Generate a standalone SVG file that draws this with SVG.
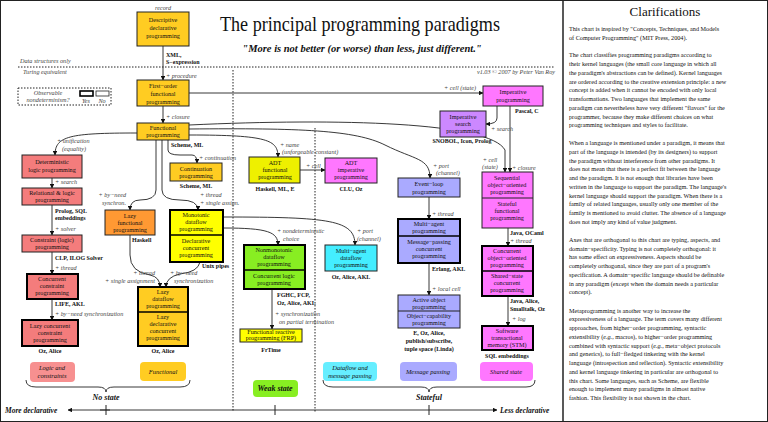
<svg xmlns="http://www.w3.org/2000/svg" width="768" height="422" viewBox="0 0 768 422">
<defs>
<marker id="ah" viewBox="0 0 10 10" refX="9" refY="5" markerWidth="5" markerHeight="5" orient="auto"><path d="M0,0 L10,5 L0,10 z" fill="#111"/></marker>
<style>
text{font-family:"Liberation Serif",serif;fill:#111}
.n{font-size:6.2px;text-anchor:middle}
.b{font-size:6px;font-weight:bold}
.bc{font-size:6px;font-weight:bold;text-anchor:middle}
.i{font-size:6.2px;font-style:italic;fill:#444}
.c{font-size:6.2px}
.r{stroke:#222;stroke-width:1}
.t{stroke:#000;stroke-width:2}
.e{fill:none;stroke:#222;stroke-width:0.9}
.dot{stroke:#222;stroke-width:1;stroke-dasharray:1.5,1.5;fill:none}
.lg{font-size:6.5px;font-style:italic;text-anchor:middle}
</style>
</defs>
<rect x="0.5" y="0.5" width="767" height="421" fill="#fff" stroke="#222"/>
<line x1="563" y1="0" x2="563" y2="422" stroke="#222" stroke-width="1.5"/>
<text x="220" y="31" font-size="21" textLength="280" lengthAdjust="spacingAndGlyphs">The principal programming paradigms</text>
<text x="362" y="52" font-size="10.5" font-style="italic" font-weight="bold" text-anchor="middle">"More is not better (or worse) than less, just different."</text>
<line x1="18" y1="67" x2="555" y2="67" class="dot"/>
<text x="20" y="63" class="i">Data structures only</text>
<text x="23" y="74" class="i">Turing equivalent</text>
<text x="555" y="74" class="i" text-anchor="end" font-size="5.2">v1.03 © 2007 by Peter Van Roy</text>
<line x1="233" y1="70" x2="233" y2="412" class="dot"/>
<line x1="315" y1="128" x2="315" y2="412" class="dot"/>
<g id="legend">
<rect x="18" y="88" width="93" height="17" class="dot"/>
<text x="48" y="95" class="i" text-anchor="middle">Observable</text>
<text x="48" y="102" class="i" text-anchor="middle">nondeterminism?</text>
<rect x="80" y="91" width="13" height="5" fill="#fff" stroke="#000" stroke-width="1.6"/>
<rect x="96" y="91" width="13" height="5" fill="#fff" stroke="#222" stroke-width="0.8"/>
<text x="86" y="103" class="i" text-anchor="middle">Yes</text>
<text x="102" y="103" class="i" text-anchor="middle">No</text>
</g>
<g id="connectors">
<path class="e" marker-end="url(#ah)" d="M163,46 V80"/>
<path class="e" marker-end="url(#ah)" d="M163,106 V123"/>
<path class="e" marker-end="url(#ah)" d="M189,93 H483"/>
<path class="e" marker-end="url(#ah)" d="M137,133 C70,133 55,136 55,155"/>
<path class="e" marker-end="url(#ah)" d="M168,140 V150 Q168,155 180,155 H192 Q197,155 197,163"/>
<path class="e" marker-end="url(#ah)" d="M156,140 V190 Q156,200 140,200 Q130,200 130,210"/>
<path class="e" marker-end="url(#ah)" d="M162,140 V190 Q162,200 180,200 Q198,200 198,210"/>
<path class="e" marker-end="url(#ah)" d="M189,135 C268,135 278,140 278,157"/>
<path class="e" marker-end="url(#ah)" d="M189,129 C300,128 355,130 385,145 C415,160 430,158 430,178"/>
<path class="e" marker-end="url(#ah)" d="M189,125 C340,118 490,122 505,150 V172"/>
<path class="e" marker-end="url(#ah)" d="M497,106 V118 Q497,124 486,124"/>
<path class="e" marker-end="url(#ah)" d="M510,106 V172"/>
<path class="e" marker-end="url(#ah)" d="M508,228 V246"/>
<path class="e" marker-end="url(#ah)" d="M508,296 V326"/>
<path class="e" marker-end="url(#ah)" d="M300,170 H325"/>
<path class="e" marker-end="url(#ah)" d="M223,217 C330,217 355,220 355,245"/>
<path class="e" marker-end="url(#ah)" d="M223,228 C268,228 278,232 278,245"/>
<path class="e" marker-end="url(#ah)" d="M429,197 V219"/>
<path class="e" marker-end="url(#ah)" d="M429,263 V295"/>
<path class="e" marker-end="url(#ah)" d="M52,178 V188"/>
<path class="e" marker-end="url(#ah)" d="M52,205 V235"/>
<path class="e" marker-end="url(#ah)" d="M52,252 V274"/>
<path class="e" marker-end="url(#ah)" d="M52,299 V320"/>
<path class="e" marker-end="url(#ah)" d="M130,235 V255 Q130,272 150,275 Q160,277 160,287"/>
<path class="e" marker-end="url(#ah)" d="M200,262 Q198,272 180,274 Q166,277 166,287"/>
<path class="e" marker-end="url(#ah)" d="M272,289 V329"/>
</g>
<g id="descriptive"><text x="163" y="10" class="i" text-anchor="middle">record</text>
<rect x="137" y="12" width="52" height="34" fill="#ffcc22" class="r"/>
<text x="163" y="22" class="n">Descriptive</text><text x="163" y="30" class="n">declarative</text><text x="163" y="38" class="n">programming</text>
<text x="166" y="57" class="b">XML,</text><text x="166" y="64" class="b">S−expression</text><text x="166" y="78" class="i">+ procedure</text></g>
<g id="firstorder"><rect x="137" y="80" width="52" height="26" fill="#ffcc22" class="r"/>
<text x="163" y="88" class="n">First−order</text><text x="163" y="96" class="n">functional</text><text x="163" y="104" class="n">programming</text>
<text x="166" y="119" class="i">+ closure</text></g>
<g id="functional"><rect x="137" y="123" width="52" height="17" fill="#ffcc22" class="r"/>
<text x="163" y="130" class="n">Functional</text><text x="163" y="137" class="n">programming</text>
<text x="171" y="147" class="b">Scheme, ML</text></g>
<g id="imperative"><rect x="483" y="86" width="60" height="20" fill="#ff77ff" class="r"/>
<text x="513" y="94" class="n">Imperative</text><text x="513" y="102" class="n">programming</text>
<text x="460" y="90" class="i" text-anchor="middle">+ cell (state)</text>
<text x="515" y="113" class="b">Pascal, C</text></g>
<g id="impsearch"><rect x="440" y="111" width="46" height="26" fill="#cc88ff" class="r"/>
<text x="463" y="119" class="n">Imperative</text><text x="463" y="126" class="n">search</text><text x="463" y="133" class="n">programming</text>
<text x="491" y="131" class="i">+ search</text>
<text x="462" y="143" class="bc">SNOBOL, Icon, Prolog</text></g>
<g id="sequential"><rect x="482" y="172" width="51" height="56" fill="#ff77ff" class="r"/><line x1="482" y1="198" x2="533" y2="198" stroke="#222"/>
<text x="507" y="180" class="n">Sequential</text><text x="507" y="187" class="n">object−oriented</text><text x="507" y="194" class="n">programming</text>
<text x="507" y="206" class="n">Stateful</text><text x="507" y="213" class="n">functional</text><text x="507" y="220" class="n">programming</text>
<text x="490" y="162" class="i" text-anchor="middle">+ cell</text><text x="490" y="169" class="i" text-anchor="middle">(state)</text>
<text x="512" y="170" class="i">+ closure</text>
<text x="510" y="235" class="b">Java, OCaml</text><text x="510" y="243" class="i">+ thread</text></g>
<g id="concoo"><rect x="482" y="246" width="51" height="50" fill="#ff77ff" class="t"/><line x1="482" y1="271" x2="533" y2="271" stroke="#000" stroke-width="1.5"/>
<text x="507" y="253" class="n">Concurrent</text><text x="507" y="260" class="n">object−oriented</text><text x="507" y="267" class="n">programming</text>
<text x="507" y="278" class="n">Shared−state</text><text x="507" y="285" class="n">concurrent</text><text x="507" y="292" class="n">programming</text>
<text x="510" y="303" class="b">Java, Alice,</text><text x="510" y="311" class="b">Smalltalk, Oz</text><text x="512" y="321" class="i">+ log</text></g>
<g id="stm"><rect x="482" y="326" width="51" height="24" fill="#ff77ff" class="t"/>
<text x="507" y="333" class="n">Software</text><text x="507" y="340" class="n">transactional</text><text x="507" y="347" class="n">memory (STM)</text>
<text x="507" y="358" class="bc">SQL embeddings</text></g>
<g id="eventloop"><rect x="398" y="178" width="62" height="19" fill="#aaaaff" class="r"/>
<text x="429" y="186" class="n">Event−loop</text><text x="429" y="194" class="n">programming</text>
<text x="433" y="168" class="i">+ port</text><text x="436" y="175" class="i">(channel)</text>
<text x="432" y="216" class="i">+ thread</text></g>
<g id="multiagent"><rect x="398" y="219" width="62" height="44" fill="#aaaaff" class="t"/><line x1="398" y1="236" x2="460" y2="236" stroke="#000" stroke-width="1.5"/>
<text x="429" y="226" class="n">Multi−agent</text><text x="429" y="233" class="n">programming</text>
<text x="429" y="244" class="n">Message−passing</text><text x="429" y="251" class="n">concurrent</text><text x="429" y="258" class="n">programming</text>
<text x="432" y="271" class="b">Erlang, AKL</text><text x="432" y="291" class="i">+ local cell</text></g>
<g id="activeobj"><rect x="398" y="295" width="62" height="33" fill="#aaaaff" class="r"/><line x1="398" y1="311" x2="460" y2="311" stroke="#222"/>
<text x="429" y="302" class="n">Active object</text><text x="429" y="309" class="n">programming</text>
<text x="429" y="318" class="n">Object−capability</text><text x="429" y="325" class="n">programming</text>
<text x="429" y="335" class="bc">E, Oz, Alice,</text><text x="429" y="343" class="bc">publish/subscribe,</text><text x="429" y="351" class="bc">tuple space (Linda)</text></g>
<g id="adtfunc"><rect x="249" y="157" width="51" height="26" fill="#eef000" class="r"/>
<text x="275" y="165" class="n">ADT</text><text x="275" y="172" class="n">functional</text><text x="275" y="179" class="n">programming</text>
<text x="280" y="147" class="i">+ name</text><text x="282" y="154" class="i">(unforgeable constant)</text>
<text x="275" y="191" class="bc">Haskell, ML, E</text></g>
<g id="adtimp"><rect x="325" y="158" width="52" height="25" fill="#ff77ff" class="r"/>
<text x="351" y="165" class="n">ADT</text><text x="351" y="172" class="n">imperative</text><text x="351" y="179" class="n">programming</text>
<text x="306" y="168" class="i">+ cell</text>
<text x="351" y="191" class="bc">CLU, Oz</text></g>
<g id="continuation"><rect x="170" y="163" width="52" height="18" fill="#ffcc22" class="r"/>
<text x="196" y="171" class="n">Continuation</text><text x="196" y="178" class="n">programming</text>
<text x="199" y="160" class="i">+ continuation</text>
<text x="196" y="188" class="bc">Scheme, ML</text></g>
<g id="detlogic"><rect x="22" y="155" width="60" height="23" fill="#f47c7c" class="r"/>
<text x="52" y="164" class="n">Deterministic</text><text x="52" y="172" class="n">logic programming</text>
<text x="57" y="143" class="i">+ unification</text><text x="62" y="151" class="i">(equality)</text>
<text x="55" y="184" class="i">+ search</text></g>
<g id="rellogic"><rect x="22" y="188" width="60" height="17" fill="#f47c7c" class="r"/>
<text x="52" y="195" class="n">Relational &amp; logic</text><text x="52" y="202" class="n">programming</text>
<text x="55" y="213" class="b">Prolog, SQL</text><text x="55" y="220" class="b">embeddings</text><text x="55" y="231" class="i">+ solver</text></g>
<g id="constraint"><rect x="22" y="235" width="60" height="17" fill="#f47c7c" class="r"/>
<text x="52" y="242" class="n">Constraint (logic)</text><text x="52" y="249" class="n">programming</text>
<text x="55" y="260" class="b">CLP, ILOG Solver</text><text x="55" y="270" class="i">+ thread</text></g>
<g id="concconstraint"><rect x="27" y="274" width="51" height="25" fill="#f47c7c" class="t"/>
<text x="52" y="281" class="n">Concurrent</text><text x="52" y="288" class="n">constraint</text><text x="52" y="295" class="n">programming</text>
<text x="55" y="306" class="b">LIFE, AKL</text><text x="55" y="316" class="i">+ by−need synchronization</text></g>
<g id="lazyconstraint"><rect x="22" y="320" width="56" height="26" fill="#f47c7c" class="t"/>
<text x="50" y="328" class="n">Lazy concurrent</text><text x="50" y="335" class="n">constraint</text><text x="50" y="342" class="n">programming</text>
<text x="50" y="353" class="bc">Oz, Alice</text></g>
<g id="lazyfunc"><rect x="105" y="210" width="50" height="25" fill="#ff9933" class="r"/>
<text x="130" y="218" class="n">Lazy</text><text x="130" y="225" class="n">functional</text><text x="130" y="232" class="n">programming</text>
<text x="126" y="197" class="i" text-anchor="end">+ by−need</text><text x="126" y="205" class="i" text-anchor="end">synchron.</text>
<text x="132" y="242" class="b">Haskell</text></g>
<g id="monotonic"><rect x="170" y="210" width="53" height="52" fill="#ffff00" class="t"/><line x1="170" y1="235" x2="223" y2="235" stroke="#000" stroke-width="1.5"/>
<text x="196" y="217" class="n">Monotonic</text><text x="196" y="224" class="n">dataflow</text><text x="196" y="231" class="n">programming</text>
<text x="196" y="243" class="n">Declarative</text><text x="196" y="250" class="n">concurrent</text><text x="196" y="257" class="n">programming</text>
<text x="200" y="197" class="i">+ thread</text><text x="200" y="205" class="i">+ single assign.</text>
<text x="202" y="268" class="b">Unix pipes</text>
<text x="155" y="275" class="i" text-anchor="end">+ thread</text><text x="155" y="283" class="i" text-anchor="end">+ single assignment</text>
<text x="170" y="275" class="i">+ by−need</text><text x="174" y="283" class="i">synchronization</text></g>
<g id="lazydataflow"><rect x="138" y="287" width="50" height="59" fill="#ffcc22" class="t"/><line x1="138" y1="312" x2="188" y2="312" stroke="#000" stroke-width="1.5"/>
<text x="163" y="294" class="n">Lazy</text><text x="163" y="301" class="n">dataflow</text><text x="163" y="308" class="n">programming</text>
<text x="163" y="319" class="n">Lazy</text><text x="163" y="326" class="n">declarative</text><text x="163" y="333" class="n">concurrent</text><text x="163" y="340" class="n">programming</text>
<text x="163" y="353" class="bc">Oz, Alice</text></g>
<g id="nonmono"><rect x="244" y="245" width="61" height="44" fill="#88ee22" class="t"/><line x1="244" y1="270" x2="305" y2="270" stroke="#000" stroke-width="1.5"/>
<text x="274" y="252" class="n">Nonmonotonic</text><text x="274" y="259" class="n">dataflow</text><text x="274" y="266" class="n">programming</text>
<text x="274" y="278" class="n">Concurrent logic</text><text x="274" y="285" class="n">programming</text>
<text x="277" y="233" class="i">+ nondeterministic</text><text x="283" y="241" class="i">choice</text>
<text x="277" y="297" class="b">FGHC, FCP,</text><text x="277" y="305" class="b">Oz, Alice, AKL</text>
<text x="275" y="316" class="i">+ synchronization</text><text x="279" y="324" class="i">on partial termination</text></g>
<g id="frp"><rect x="240" y="329" width="62" height="13" fill="#ffff00" class="r"/>
<text x="271" y="334" class="n">Functional reactive</text><text x="271" y="340" class="n">programming (FRP)</text>
<text x="271" y="352" class="bc">FrTime</text></g>
<g id="madataflow"><rect x="325" y="245" width="52" height="26" fill="#44eeff" class="r"/>
<text x="351" y="253" class="n">Multi−agent</text><text x="351" y="260" class="n">dataflow</text><text x="351" y="267" class="n">programming</text>
<text x="357" y="233" class="i">+ port</text><text x="357" y="241" class="i">(channel)</text>
<text x="351" y="279" class="bc">Oz, Alice, AKL</text></g>
<g id="bottom">
<rect x="30" y="362" width="45" height="20" rx="4" fill="#f79090"/>
<text x="52" y="370" class="lg">Logic and</text><text x="52" y="378" class="lg">constraints</text>
<rect x="140" y="362" width="46" height="19" rx="4" fill="#ffcc22"/>
<text x="163" y="374" class="lg">Functional</text>
<rect x="253" y="380" width="45" height="17" rx="4" fill="#88ee22"/>
<text x="275" y="391" font-size="8" font-style="italic" font-weight="bold" text-anchor="middle">Weak state</text>
<rect x="323" y="362" width="54" height="19" rx="4" fill="#66eeff"/>
<text x="350" y="370" class="lg">Dataflow and</text><text x="350" y="378" class="lg">message passing</text>
<rect x="400" y="362" width="57" height="19" rx="4" fill="#aaaaff"/>
<text x="428" y="374" class="lg">Message passing</text>
<rect x="480" y="362" width="53" height="19" rx="4" fill="#ff77ff"/>
<text x="506" y="374" class="lg">Shared state</text>
<path class="e" stroke-width="1.2" d="M26,380 Q26,387 36,387 H98 Q106,387 106,392 Q106,387 114,387 H180 Q190,387 190,380"/>
<text x="106" y="400" font-size="8" font-style="italic" font-weight="bold" text-anchor="middle">No state</text>
<path class="e" stroke-width="1.2" d="M323,380 Q323,387 333,387 H421 Q429,387 429,392 Q429,387 437,387 H526 Q535,387 535,380"/>
<text x="429" y="400" font-size="8" font-style="italic" font-weight="bold" text-anchor="middle">Stateful</text>
<path class="e" marker-end="url(#ah)" d="M110,410 H68"/>
<path class="e" marker-end="url(#ah)" d="M100,410 H497"/>
<line x1="106" y1="405" x2="106" y2="415" stroke="#222"/>
<line x1="275" y1="405" x2="275" y2="415" stroke="#222"/>
<line x1="429" y1="405" x2="429" y2="415" stroke="#222"/>
<text x="5" y="413" font-size="7.5" font-style="italic" font-weight="bold">More declarative</text>
<text x="500" y="413" font-size="7.5" font-style="italic" font-weight="bold">Less declarative</text>
</g>
<g id="clarifications" class="c">
<text x="665" y="16" font-size="13" text-anchor="middle">Clarifications</text>
<text x="569" y="31" class="c">This chart is inspired by "Concepts, Techniques, and Models</text>
<text x="569" y="40" class="c">of Computer Programming" (MIT Press, 2004).</text>
<text x="569" y="57" class="c">The chart classifies programming paradigms according to</text>
<text x="569" y="66" class="c">their kernel languages (the small core language in which all</text>
<text x="569" y="75" class="c">the paradigm's abstractions can be defined).  Kernel languages</text>
<text x="569" y="84" class="c">are ordered according to the creative extension principle: a new</text>
<text x="569" y="92" class="c">concept is added when it cannot be encoded with only local</text>
<text x="569" y="101" class="c">transformations.  Two languages that implement the same</text>
<text x="569" y="110" class="c">paradigm can nevertheless have very different "flavors" for the</text>
<text x="569" y="119" class="c">programmer, because they make different choices on what</text>
<text x="569" y="127" class="c">programming techniques and styles to facilitate.</text>
<text x="569" y="145" class="c">When a language is mentioned under a paradigm, it means that</text>
<text x="569" y="154" class="c">part of the language is intended (by its designers) to support</text>
<text x="569" y="163" class="c">the paradigm without interference from other paradigms.  It</text>
<text x="569" y="171" class="c">does not mean that there is a perfect fit between the language</text>
<text x="569" y="180" class="c">and the paradigm.  It is not enough that libraries have been</text>
<text x="569" y="189" class="c">written in the language to support the paradigm.  The language's</text>
<text x="569" y="198" class="c">kernel language should support the paradigm.  When there is a</text>
<text x="569" y="206" class="c">family of related languages, usually only one member of the</text>
<text x="569" y="215" class="c">family is mentioned to avoid clutter.  The absence of a language</text>
<text x="569" y="224" class="c">does not imply any kind of value judgment.</text>
<text x="569" y="242" class="c">Axes that are orthogonal to this chart are typing, aspects, and</text>
<text x="569" y="251" class="c">domain−specificity.  Typing is not completely orthogonal: it</text>
<text x="569" y="259" class="c">has some effect on expressiveness.  Aspects should be</text>
<text x="569" y="268" class="c">completely orthogonal, since they are part of a program's</text>
<text x="569" y="277" class="c">specification.  A domain−specific language should be definable</text>
<text x="569" y="286" class="c">in any paradigm (except when the domain needs a particular</text>
<text x="569" y="294" class="c">concept).</text>
<text x="569" y="313" class="c">Metaprogramming is another way to increase the</text>
<text x="569" y="321" class="c">expressiveness of a language.  The term covers many different</text>
<text x="569" y="330" class="c">approaches, from higher−order programming, syntactic</text>
<text x="569" y="339" class="c">extensibility (<tspan font-style="italic">e.g.</tspan>, macros), to higher−order programming</text>
<text x="569" y="348" class="c">combined with syntactic support (<tspan font-style="italic">e.g.</tspan>, meta−object protocols</text>
<text x="569" y="356" class="c">and generics), to full−fledged tinkering with the kernel</text>
<text x="569" y="365" class="c">language (introspection and reflection).  Syntactic extensibility</text>
<text x="569" y="374" class="c">and kernel language tinkering in particular are orthogonal to</text>
<text x="569" y="383" class="c">this chart.  Some languages, such as Scheme, are flexible</text>
<text x="569" y="391" class="c">enough to implement many paradigms in almost native</text>
<text x="569" y="400" class="c">fashion.  This flexibility is not shown in the chart.</text>
</g>
</svg>
